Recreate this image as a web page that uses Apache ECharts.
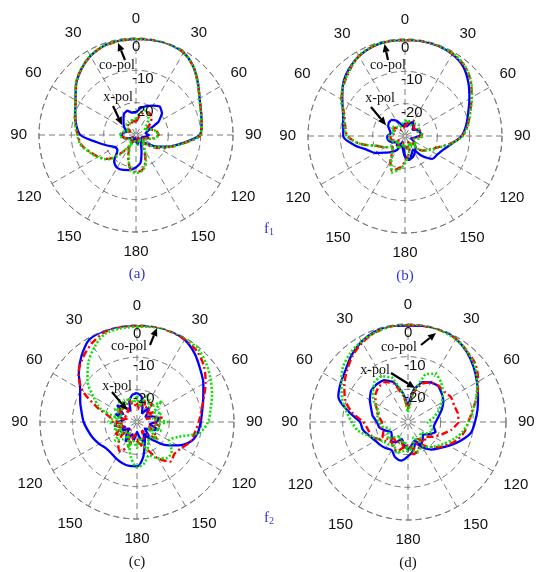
<!DOCTYPE html>
<html><head><meta charset="utf-8">
<script src="https://cdn.jsdelivr.net/npm/echarts@6/dist/echarts.min.js"></script>
<style>html,body{margin:0;padding:0;background:#fff}#c{width:536px;height:572px}</style>
</head><body><div id="c"></div>
<script>
// ---------------- DATA (dB, sampled every 10 degrees, clockwise from 0 at top) ----------------
const ANGLES = [0,10,20,30,40,50,60,70,80,90,100,110,120,130,140,150,160,170,180,190,200,210,220,230,240,250,260,270,280,290,300,310,320,330,340,350];
const RADIAL_TICKS = [0, -10, -20];
const PANEL_LABELS = ['(a)', '(b)', '(c)', '(d)'];

// (a)
const A_CO_BLUE  = [-0.3,-0.2,-0.1,-0.6,-2.4,-5,-7.3,-8.6,-9.4,-10.3,-15.5,-19.5,-23,-26,-27.5,-27,-25,-21.5,-20,-19,-18.5,-18.3,-19.5,-22.5,-22.5,-20.5,-17.5,-12.8,-11.2,-10,-8.4,-5.8,-3.6,-1.8,-0.7,-0.4];
const A_CO_RED   = [-0.3,-0.1,0,-0.6,-2.4,-5,-7.3,-8.6,-9.3,-10,-15.2,-19,-22,-25,-27,-25,-21.5,-19,-18.5,-19.5,-23,-26,-22.5,-18.5,-16.5,-14.8,-12.8,-12,-11,-10,-8.5,-5.8,-3.6,-1.8,-0.8,-0.4];
const A_CO_GREEN = [-0.2,-0.1,-0.1,-0.6,-2.4,-5.1,-7.4,-8.7,-9.4,-10.1,-15.1,-19.3,-22.5,-25.5,-27,-24.5,-21,-18.8,-18.3,-19.2,-23.5,-26.5,-22,-18.3,-16.3,-14.6,-12.6,-11.8,-10.9,-9.9,-8.4,-5.7,-3.5,-1.7,-0.7,-0.3];
const A_X_BLUE   = [-23,-21.5,-20.5,-19.5,-18.5,-19.5,-22,-26,-27,-26,-27,-28,-28,-27,-28,-29,-28,-27,-28,-29,-28,-27,-28,-29,-28,-27,-26,-25.5,-26,-27,-26,-25,-24,-22.5,-22,-23];
const A_X_RED    = [-26,-24,-22.5,-22,-22.5,-24,-26,-25,-23.5,-23,-24.5,-27,-28,-27,-28,-29,-28,-27.5,-28,-28.5,-28,-27,-28,-29,-28,-27,-26,-25.5,-26,-27,-28,-27,-26,-26.5,-26,-25.5];
const A_X_GREEN  = [-25,-23,-22,-22.5,-24,-26,-27,-25,-23.5,-23,-24,-26.5,-27.5,-26.5,-27.5,-28.5,-27.5,-27,-27.5,-28,-27.5,-26.5,-27.5,-28.5,-27.5,-26.5,-25.5,-25,-25.5,-26.5,-27.5,-26.5,-25.5,-26,-25.5,-25];
// (b)
const B_CO_BLUE  = [-0.3,-0.2,-0.3,-0.8,-2,-4.4,-7,-9.2,-10.8,-12.5,-15.5,-17.5,-18.5,-19,-22,-25,-24,-22.5,-23.5,-26,-27,-25,-23.5,-22,-19.5,-17.5,-14,-10.9,-10.6,-9.6,-7.6,-5,-3,-1.5,-0.6,-0.3];
const B_CO_RED   = [-0.3,-0.2,-0.2,-0.6,-1.5,-3.5,-6.2,-8.6,-10.3,-12.3,-16,-19.5,-21.5,-23,-26,-27.5,-26,-24,-22,-20,-18.5,-21,-24,-25,-23,-21,-16,-12.2,-11.2,-10,-7.3,-5.3,-3.4,-1.5,-0.6,-0.3];
const B_CO_GREEN = [-0.2,-0.1,-0.2,-0.5,-1.4,-3.4,-6.1,-8.5,-10.2,-12.2,-15.8,-19.3,-21.3,-23,-26,-27.5,-26,-24,-21.5,-19.5,-18,-21.5,-24,-25,-23,-21,-16,-12,-11,-9.8,-7.2,-5.2,-3.3,-1.4,-0.5,-0.2];
const B_X_BLUE   = [-26,-27,-26,-25,-26,-27,-26,-25.5,-25,-25.5,-27,-28,-27,-26,-25,-24,-23,-22.5,-24,-27,-28,-27,-26,-27,-26,-25,-24.5,-24.5,-25.5,-25,-24,-23.5,-23.5,-24.5,-26,-27];
const B_X_RED    = [-27,-26,-25,-24.5,-25.5,-26.5,-26,-25,-24.5,-25,-26.5,-27.5,-27,-26,-27,-28,-27,-26,-27,-28,-27,-26,-27,-28,-27,-26,-25.5,-25.5,-26.5,-27,-26,-26,-27,-28,-27.5,-27.5];
const B_X_GREEN  = [-25.5,-25,-25.5,-26,-25,-24.5,-25,-26,-25,-24.5,-25.5,-27,-26.5,-25.5,-26.5,-27.5,-26.5,-26,-26.5,-27.5,-26.5,-25.5,-26.5,-27.5,-26.5,-25.5,-25,-25,-26,-26.5,-25.5,-25.5,-26.5,-27,-26.5,-26];
// (c)
const C_CO_BLUE  = [0,0,0,-0.6,-2.3,-4.5,-6.3,-8.2,-9.5,-10.3,-10.9,-12.3,-15.5,-19,-23,-25,-23,-19,-16.3,-16.2,-16.5,-17,-17.5,-17.4,-16.5,-15.5,-14.6,-13.5,-12.6,-11.3,-9.7,-6.5,-3.3,-0.5,0,0];
const C_CO_RED   = [-0.3,0,-0.2,-0.5,-1.3,-3,-5.5,-8,-9.8,-10.9,-11.8,-12.4,-14,-14.8,-14,-17,-21,-23,-24,-25,-22,-19.5,-21,-24,-26,-25,-23.5,-22.5,-21.5,-17,-10.5,-6.4,-4,-2,-0.5,-0.2];
const C_CO_GREEN = [-0.5,-0.2,0,0,-0.6,-2,-3.7,-5.3,-6.9,-8,-10.5,-16.5,-18.5,-16,-15.5,-17,-19,-17,-16,-19,-23,-25,-26,-25,-24,-24.5,-25,-24.7,-24,-18,-14.5,-10,-6.5,-3.5,-1,-0.6];
const C_X_BLUE   = [-21,-22,-25,-27,-24,-26,-27,-25,-23,-24,-26,-23,-25,-27,-24,-26,-23,-25,-27,-24,-26,-23,-25,-27,-24,-26,-23,-24,-26,-23,-25,-22,-24,-26,-23,-21.5];
const C_X_RED    = [-24,-26,-23,-25,-22.5,-26,-24,-27,-22,-25,-23,-26,-24,-22,-25,-27,-24,-22.5,-25,-26,-23,-25,-27,-24,-22,-25,-26,-23,-25,-27,-24,-23,-26,-24,-22.5,-25];
const C_X_GREEN  = [-22,-25,-21,-23,-24,-20,-24,-22,-25,-20.5,-24,-22,-26,-21.5,-24,-23,-20.5,-25,-22,-24,-21.5,-25,-23,-21,-25,-22.5,-24,-21,-23,-25,-22,-24,-21,-23.5,-22,-24];
// (d)
const D_CO_BLUE  = [-0.5,-0.2,0,-0.6,-2,-3.8,-5.6,-7.2,-8.4,-9.5,-10.5,-13,-15.5,-17.5,-19,-21,-23,-21,-19.5,-18,-18.5,-20,-19.5,-19,-18.5,-17.5,-16,-15.3,-11.5,-7.3,-6.2,-5.1,-3.2,-1.6,-0.5,-0.2];
const D_CO_RED   = [-0.3,-0.2,-0.2,-0.6,-1.8,-2.9,-5.2,-7.6,-10,-11.5,-12.5,-14,-16,-18,-20,-22,-21,-20,-21,-22,-20.5,-21,-22,-21,-19.5,-18,-17.5,-16.3,-12.5,-9.5,-7.5,-5.6,-3.6,-2,-0.8,-0.3];
const D_CO_GREEN = [0,0,-0.3,-0.8,-1.8,-3.4,-5.5,-7.8,-9.8,-11.5,-13,-15,-17,-18.5,-20,-21.5,-20.5,-21,-22,-21,-20,-21.5,-21,-20.5,-19.5,-17.5,-14.5,-12.8,-10.8,-8.5,-6.5,-4,-2.5,-1.5,-0.8,-0.2];
const D_X_BLUE   = [-25,-20,-17,-16,-15.6,-16.5,-17.5,-19,-20.5,-21.5,-22,-21,-22.5,-24,-23,-22,-24,-23,-21.5,-23,-24.5,-23,-22,-23.5,-24,-22.5,-21,-20.5,-19,-18,-16.5,-15.2,-15,-15.2,-17,-21];
const D_X_RED    = [-26,-21,-17.5,-16,-15.5,-15.5,-14.8,-15,-14.5,-14.5,-16.5,-19,-21,-23,-22,-24,-22.5,-21.5,-23,-22,-24,-22.5,-23.5,-22,-21,-22,-21.5,-22,-21,-20,-18.5,-17,-16,-15.8,-17.5,-22];
const D_X_GREEN  = [-27,-21,-14.5,-12.9,-14.2,-16,-18,-20,-22,-24,-23,-22,-23,-25,-24,-23,-25,-22,-21,-24,-23,-25,-24,-22,-23,-24,-22,-21,-20.5,-20.5,-18,-16,-14,-13.8,-15.5,-21];

const PANEL_DATA = [
  {blue:[A_CO_BLUE,A_X_BLUE], red:[A_CO_RED,A_X_RED], green:[A_CO_GREEN,A_X_GREEN]},
  {blue:[B_CO_BLUE,B_X_BLUE], red:[B_CO_RED,B_X_RED], green:[B_CO_GREEN,B_X_GREEN]},
  {blue:[C_CO_BLUE,C_X_BLUE], red:[C_CO_RED,C_X_RED], green:[C_CO_GREEN,C_X_GREEN]},
  {blue:[D_CO_BLUE,D_X_BLUE], red:[D_CO_RED,D_X_RED], green:[D_CO_GREEN,D_X_GREEN]}
];

// ---------------- LAYOUT ----------------
const LAYOUT = [
  {center:[136,135], r:97, label:[137,274], labelColor:'#3434d6',
   co:{t:[117,65], a:[125,60,118,43]}, x:{t:[118,97], a:[113,106,122,125]}},
  {center:[405,136], r:97, label:[405,276], labelColor:'#3434d6',
   co:{t:[388,65], a:[388,60,384.5,44]}, x:{t:[380,98], a:[371,107,386,125]}},
  {center:[137,422], r:97, label:[137,562], labelColor:'#111',
   co:{t:[129,346], a:[150,345,157,328]}, x:{t:[117,386], a:[112,392,127,410]}},
  {center:[408,422], r:98, label:[408,563], labelColor:'#111',
   co:{t:[399,347], a:[421,345,436,333]}, x:{t:[375,370], a:[391,373,415,388]}}
];
const SANS = 'Liberation Sans, Arial, sans-serif';
const SERIF = 'Liberation Serif, Times New Roman, serif';
const GRID = '#7a7a7a';

function loop(vals){
  const d = vals.map((v,i)=>[Math.max(v,-30), ANGLES[i]]);
  d.push([Math.max(vals[0],-30), 360]);
  return d;
}

const polar=[], angleAxis=[], radiusAxis=[], series=[];
LAYOUT.forEach((L,i)=>{
  polar.push({center:L.center, radius:L.r});
  angleAxis.push({
    polarIndex:i, type:'value', min:0, max:360, interval:30, startAngle:90, clockwise:true,
    axisLine:{show:true, lineStyle:{color:GRID, width:1, type:[6,4]}},
    axisTick:{show:false},
    axisLabel:{show:true, margin:12, fontSize:15, color:'#111', fontFamily:SANS,
      formatter:v=> v>=360 ? '' : String(v>180 ? 360-v : v)},
    splitLine:{show:true, lineStyle:{color:GRID, width:1, type:[6,4]}}
  });
  radiusAxis.push({
    polarIndex:i, type:'value', min:-30, max:0, interval:10,
    axisLine:{show:false}, axisTick:{show:false}, axisLabel:{show:false},
    splitLine:{show:true, lineStyle:{color:GRID, width:1, type:[6,4]}}
  });
  const P = PANEL_DATA[i];
  const styles = {
    blue:{color:'#0000ff', type:'solid', width:2.3},
    red:{color:'#ff0000', type:[7,3,2,3], width:2.4},
    green:{color:'#00e600', type:[2,2], width:2.6}
  };
  ['blue','red','green'].forEach(k=>{
    P[k].forEach((arr,j)=>{
      series.push({
        type:'line', coordinateSystem:'polar', polarIndex:i,
        name:k+(j?'-x':'-co'), data:loop(arr), showSymbol:false, smooth:j?0.1:0.3,
        lineStyle:styles[k], itemStyle:{color:styles[k].color}, animation:false, silent:true
      });
    });
  });
});

const chart = echarts.init(document.getElementById('c'), null, {renderer:'canvas'});
chart.setOption({backgroundColor:'#fff', animation:false, polar, angleAxis, radiusAxis, series});

function arrow(x1,y1,x2,y2){
  const ang=Math.atan2(y2-y1,x2-x1), L=8, W=3.6;
  const bx=x2-L*Math.cos(ang), by=y2-L*Math.sin(ang);
  const px=-Math.sin(ang)*W, py=Math.cos(ang)*W;
  return [
    {type:'line', z:100, shape:{x1,y1,x2:bx,y2:by}, style:{stroke:'#000', lineWidth:2.2}},
    {type:'polygon', z:100, shape:{points:[[x2,y2],[bx+px,by+py],[bx-px,by-py]]}, style:{fill:'#000'}}
  ];
}

const g=[];
LAYOUT.forEach((L,i)=>{
  RADIAL_TICKS.forEach(t=>{
    let p=null;
    try{ p=chart.convertToPixel({polarIndex:i},[t,0]); }catch(e){ p=null; }
    if(!p || isNaN(p[0])){ p=[L.center[0], L.center[1]-(t+30)/30*L.r]; }
    g.push({type:'text', z:100, x:L.center[0]-4, y:p[1]+9,
      style:{text:String(t), fontSize:15, fontFamily:SANS, fill:'#111', align:'left', verticalAlign:'middle'}});
  });
  g.push({type:'text', z:100, x:L.co.t[0], y:L.co.t[1],
    style:{text:'co-pol', fontSize:14, fontFamily:SERIF, fill:'#111', align:'center', verticalAlign:'middle'}});
  g.push({type:'text', z:100, x:L.x.t[0], y:L.x.t[1],
    style:{text:'x-pol', fontSize:14, fontFamily:SERIF, fill:'#111', align:'center', verticalAlign:'middle'}});
  g.push(...arrow(...L.co.a));
  g.push(...arrow(...L.x.a));
  g.push({type:'text', z:100, x:L.label[0], y:L.label[1],
    style:{text:PANEL_LABELS[i], fontSize:15, fontFamily:SERIF, fill:L.labelColor, align:'center', verticalAlign:'middle'}});
});
[['1',269,229],['2',269,518]].forEach(([s,x,y])=>{
  g.push({type:'text', z:100, x, y,
    style:{text:'{f|f}{s|'+s+'}', fill:'#3434d6', align:'center', verticalAlign:'middle',
      rich:{f:{fontSize:15, fontFamily:SERIF, fill:'#3434d6'}, s:{fontSize:10, fontFamily:SERIF, fill:'#3434d6', padding:[6,0,0,0]}}}});
});
chart.setOption({graphic:g});
</script>
</body></html>
